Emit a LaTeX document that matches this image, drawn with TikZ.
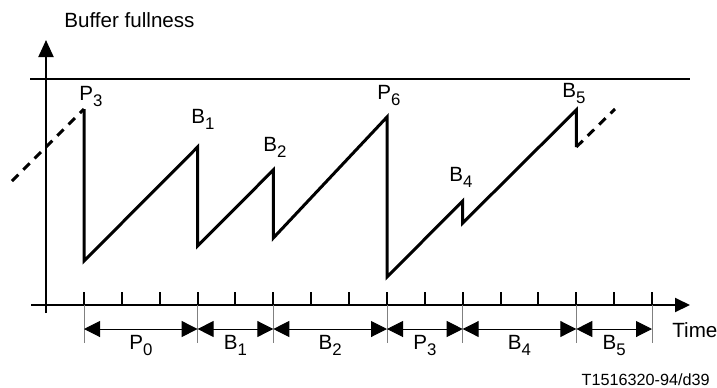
\documentclass[tikz,border=0pt]{standalone}
\usepackage{fontspec}
\setmainfont{Liberation Sans}
\usetikzlibrary{arrows.meta}
\newcommand{\lowsub}[1]{\raisebox{-0.6ex}{\fontsize{8.4}{9}\selectfont #1}}
\tikzset{
    axisline/.style={
        line width=1pt,
        black
    },
    sawline/.style={
        line width=1.5pt,
        black
    },
    % dashed continuation of the sawtooth
    dashsaw/.style={
        line width=1.5pt,
        black,
        dash pattern=on 4.5pt off 3.5pt
    },
    guide/.style={
        line width=0.5pt,
        gray
    },
    dimarrow/.style={
        line width=0.5pt,
        black,
        {Triangle[length=8pt, width=8pt]}-{Triangle[length=8pt, width=8pt]}
    },
    lbl/.style={
        font=\fontsize{10.3}{12}\selectfont,
        inner sep=0pt
    }
}

\begin{document}
\begin{tikzpicture}[x=0.5pt,y=-0.5pt]
    \useasboundingbox (0,0) rectangle (717,387);
    \path
    (46,313) coordinate (yb) (46,40) coordinate (yt)
    (31,305) coordinate (xb) (690,305) coordinate (xt)
    (30,79) coordinate (cl) (690,79) coordinate (cr)
    (84,329) coordinate (d0) (197.6,329) coordinate (d1) (273.3,329) coordinate (d2)
    (387,329) coordinate (d3) (462.7,329) coordinate (d4) (576.3,329) coordinate (d5)
    (652,329) coordinate (d6);
    \path
    (12,181) coordinate (s0) (615,109) coordinate (s1)
    (84,109) coordinate (p3) (84,261) coordinate (p3b)
    (197.6,147) coordinate (b1) (197.6,246) coordinate (b1b)
    (273.3,170) coordinate (b2) (273.3,238) coordinate (b2b)
    (387,117) coordinate (p6) (387,277) coordinate (p6b)
    (462.7,201) coordinate (b4) (462.7,223) coordinate (b4b)
    (576.3,110) coordinate (b5) (576.3,147) coordinate (b5b);

    % axes and capacity line
    \draw[axisline,-{Triangle[length=8.5pt, width=7.5pt]}] (yb) -- (yt);
    \draw[axisline,-{Triangle[length=7.5pt, width=7pt]}] (xb) -- (xt);
    \draw[axisline] (cl) -- (cr);
    \foreach \i in {0,...,15}
        \draw[axisline] ({84+37.87*\i},292) -- ({84+37.87*\i},305);

    % buffer occupancy
    \draw[dashsaw] (s0) -- (p3);
    \draw[sawline] (p3) -- (p3b) -- (b1) -- (b1b) -- (b2) -- (b2b) -- (p6) -- (p6b)
        -- (b4) -- (b4b) -- (b5) -- (b5b);
    \draw[dashsaw] (b5b) -- (s1);

    \node[lbl,anchor=base west] (lp3) at (79,100) {P\lowsub{3}};
    \node[lbl,anchor=base west] (lb1) at (191,123) {B\lowsub{1}};
    \node[lbl,anchor=base west] (lb2) at (263,151) {B\lowsub{2}};
    \node[lbl,anchor=base west] (lp6) at (377,99) {P\lowsub{6}};
    \node[lbl,anchor=base west] (lb4) at (449,181) {B\lowsub{4}};
    \node[lbl,anchor=base west] (lb5) at (562,97) {B\lowsub{5}};

    % picture intervals
    \foreach \k in {0,...,6}
        \draw[guide] (d\k) ++(0,-24) -- ++(0,38);
    \draw[dimarrow] (d0) -- (d1) node[lbl,midway,anchor=base,yshift=-10pt] (ip0) {P\lowsub{0}};
    \draw[dimarrow] (d1) -- (d2) node[lbl,midway,anchor=base,yshift=-10pt] (ib1) {B\lowsub{1}};
    \draw[dimarrow] (d2) -- (d3) node[lbl,midway,anchor=base,yshift=-10pt] (ib2) {B\lowsub{2}};
    \draw[dimarrow] (d3) -- (d4) node[lbl,midway,anchor=base,yshift=-10pt] (ip3) {P\lowsub{3}};
    \draw[dimarrow] (d4) -- (d5) node[lbl,midway,anchor=base,yshift=-10pt] (ib4) {B\lowsub{4}};
    \draw[dimarrow] (d5) -- (d6) node[lbl,midway,anchor=base,yshift=-10pt] (ib5) {B\lowsub{5}};

    \node[lbl,anchor=base west] (ytitle) at (64,27) {Buffer fullness};
    \node[lbl,anchor=base west] (xtitle) at (672,337) {Time};
    \node[anchor=base east,inner sep=0pt,font=\fontsize{8.1}{10}\selectfont] (code) at (710,385) {T1516320-94/d39};
\end{tikzpicture}
\end{document}
